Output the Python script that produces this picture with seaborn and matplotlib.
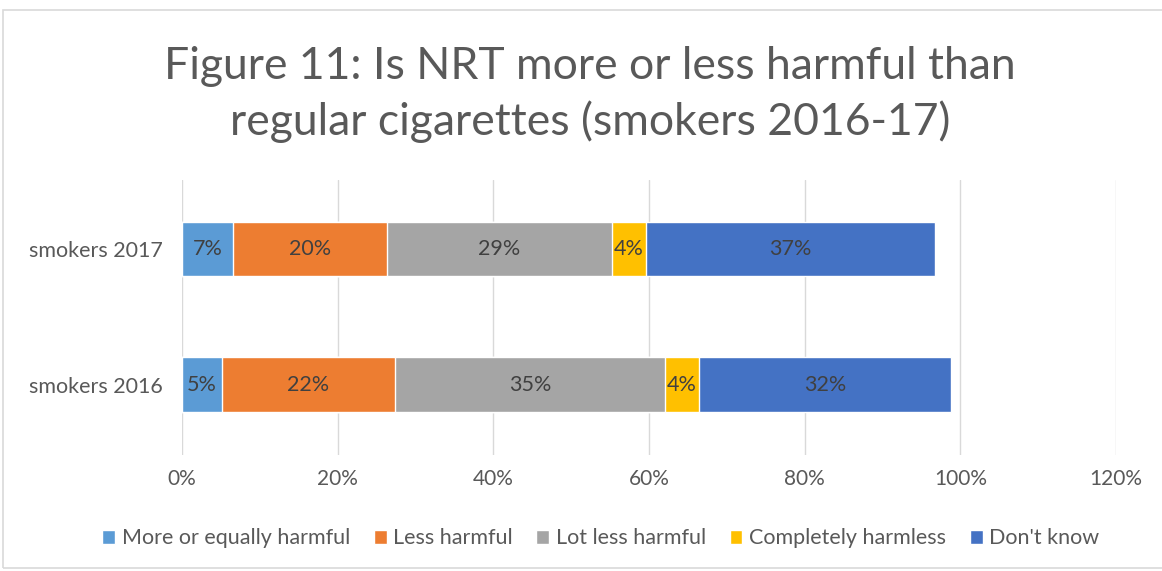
import matplotlib as mpl
mpl.use('Agg')
import matplotlib.pyplot as plt
import seaborn as sns
import pandas as pd
import numpy as np
from matplotlib.patches import Rectangle, Patch

groups = ['smokers 2017', 'smokers 2016']
answers = ['More or equally harmful', 'Less harmful', 'Lot less harmful',
           'Completely harmless', "Don't know"]
share_2017 = [6.6, 19.8, 28.8, 4.4, 37.1]
share_2016 = [5.1, 22.3, 34.6, 4.4, 32.4]
colors = ['#5b9bd5', '#ed7d31', '#a5a5a5', '#ffc000', '#4472c4']
xticks = [0, 20, 40, 60, 80, 100, 120]

sns.set_theme(style='white')
plt.rcParams['font.family'] = ['Lato', 'DejaVu Sans']

df = pd.DataFrame({'group': groups})
for i, a in enumerate(answers):
    df[a] = [share_2017[i], share_2016[i]]
cum = df[answers].cumsum(axis=1)

fig = plt.figure(figsize=(11.62, 5.71), dpi=100)
ax = fig.add_axes([0.1566, 0.2032, 0.8038, 0.4816])

# draw the stacks back to front so each cumulative bar shows its own slice
for a, c in reversed(list(zip(answers, colors))):
    sns.barplot(x=cum[a], y=df['group'], color=c, orient='h', width=0.4,
                saturation=1, ax=ax, zorder=3)

for row in range(len(groups)):
    left = 0
    for a in answers:
        v = df.loc[row, a]
        ax.text(left + v / 2, row, '{:.0f}%'.format(v), ha='center', va='center',
                fontsize=15.5, color='#404040', zorder=4)
        left += v

ax.set_xlim(0, 120)
ax.set_ylim(1.52, -0.51)
ax.set_xticks(xticks)
ax.set_xticklabels(['{}%'.format(t) for t in xticks], fontsize=15, color='#595959')
ax.tick_params(axis='y', labelsize=15.5, labelcolor='#595959', pad=14, length=0)
ax.tick_params(axis='x', pad=10, length=0)
ax.set_xlabel('')
ax.set_ylabel('')
ax.grid(axis='x', color='#d9d9d9', linewidth=1, zorder=0)
for s in ax.spines.values():
    s.set_visible(False)

fig.suptitle('Figure 11: Is NRT more or less harmful than\nregular cigarettes (smokers 2016-17)',
             x=0.508, y=0.92, fontsize=32, color='#595959', linespacing=1.38)

handles = [Patch(facecolor=c, label=a) for a, c in zip(answers, colors)]
fig.legend(handles=handles, loc='center', bbox_to_anchor=(0.517, 0.057), ncol=5,
           frameon=False, fontsize=15.5, handlelength=0.6, handleheight=0.6,
           handletextpad=0.3, columnspacing=1.1, labelcolor='#595959')

fig.patches.append(Rectangle((3 / 1162, 1 - 568 / 571), 1.0, 558 / 571,
                             transform=fig.transFigure, fill=False,
                             edgecolor='#d9d9d9', linewidth=1.2))

fig.savefig('out.png', dpi=100)
